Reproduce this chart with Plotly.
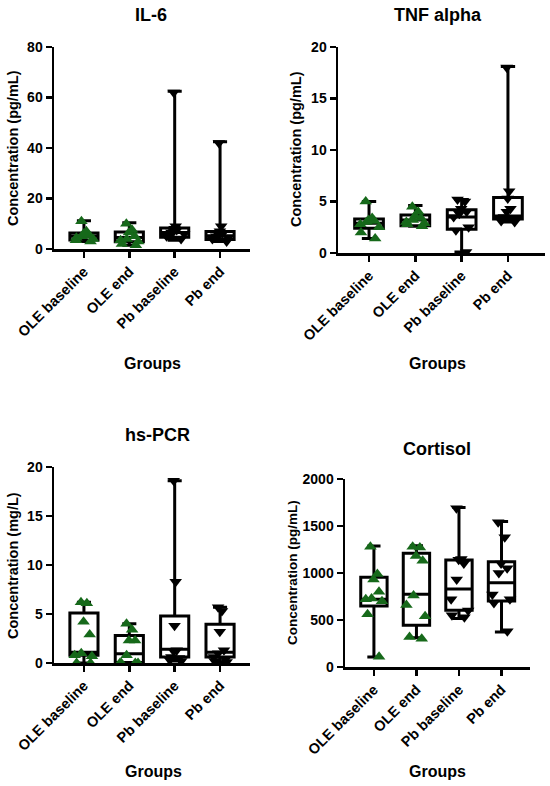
import plotly.graph_objects as go

# ---------------- data ----------------
categories = ["OLE baseline", "OLE end", "Pb baseline", "Pb end"]

# IL-6 (pg/mL)
il6_q1 = [3.6, 2.9, 4.7, 3.8]
il6_median = [5.0, 4.6, 6.5, 5.2]
il6_q3 = [6.3, 6.7, 8.3, 6.9]
il6_min = [3.0, 1.5, 3.5, 3.0]
il6_max = [11.2, 10.4, 62.5, 42.5]
il6_ole_base = [11.0, 7.0, 6.0, 5.5, 5.0, 4.5, 4.0, 3.5, 3.0]
il6_ole_end = [10.0, 7.5, 6.5, 5.0, 4.0, 3.5, 3.0, 2.0, 1.5]
il6_pb_base = [62.0, 9.0, 8.0, 7.5, 7.0, 6.5, 6.0, 5.0, 4.0]
il6_pb_end = [42.0, 9.0, 7.0, 6.0, 5.5, 5.0, 4.5, 4.0, 3.0]

# TNF alpha (pg/mL)
tnf_q1 = [2.4, 2.65, 2.3, 3.3]
tnf_median = [2.9, 3.2, 3.5, 3.6]
tnf_q3 = [3.3, 3.7, 4.2, 5.4]
tnf_min = [1.4, 2.6, 0.1, 3.0]
tnf_max = [5.0, 4.6, 5.2, 18.1]
tnf_ole_base = [5.0, 3.4, 3.2, 3.1, 3.0, 2.8, 2.5, 2.0, 1.4]
tnf_ole_end = [4.5, 4.0, 3.6, 3.4, 3.2, 3.0, 2.9, 2.8, 2.6]
tnf_pb_base = [5.2, 5.0, 4.3, 4.0, 3.8, 3.5, 2.5, 2.2, 0.1]
tnf_pb_end = [18.0, 6.0, 5.3, 4.3, 4.0, 3.5, 3.3, 3.1, 3.0]

# hs-PCR (mg/L)
pcr_q1 = [0.8, 0.05, 0.6, 0.6]
pcr_median = [1.1, 0.95, 1.4, 1.1]
pcr_q3 = [5.1, 2.8, 4.8, 3.95]
pcr_min = [0.0, 0.0, 0.2, 0.1]
pcr_max = [6.2, 4.0, 18.6, 5.7]
pcr_ole_base = [6.2, 6.1, 4.2, 2.9, 1.0, 0.8, 0.7, 0.0, 0.0]
pcr_ole_end = [4.0, 3.4, 2.3, 2.3, 0.8, 0.0, 0.0, 0.0, 0.0]
pcr_pb_base = [18.6, 8.3, 3.8, 1.3, 1.2, 0.6, 0.5, 0.3, 0.2]
pcr_pb_end = [5.7, 5.3, 3.2, 1.3, 1.0, 0.6, 0.4, 0.2, 0.1]

# Cortisol (pg/mL)
cort_q1 = [648, 445, 605, 701]
cort_median = [720, 773, 829, 897]
cort_q3 = [954, 1210, 1139, 1121]
cort_min = [107, 310, 516, 373]
cort_max = [1288, 1290, 1697, 1547]
cort_ole_base = [1280, 990, 930, 800, 730, 720, 700, 560, 110]
cort_ole_end = [1280, 1270, 1180, 1130, 760, 660, 540, 320, 300]
cort_pb_base = [1690, 1150, 1140, 1100, 930, 720, 600, 550, 530]
cort_pb_end = [1540, 1380, 1100, 1050, 1000, 770, 720, 680, 380]

# ---------------- layout helpers ----------------
W, H = 550, 786
FONT = "Liberation Sans, Arial, sans-serif"
GREEN = "#16691a"


def fx(p):
    return p / W


def fy(p):
    return 1 - p / H


panels = [
    dict(title="IL-6", ytitle="Concentration (pg/mL)", ysize=14.5,
         stats=(il6_q1, il6_median, il6_q3, il6_min, il6_max),
         pts=[il6_ole_base, il6_ole_end, il6_pb_base, il6_pb_end],
         yrange=[0, 80], dtick=20,
         xdom=(54, 250), ydom=(47, 249), xr=[-0.66, 3.66],
         tpos=(151, 15), ypos=(13, 148), gpos=(152, 363)),
    dict(title="TNF alpha", ytitle="Concentration (pg/mL)", ysize=14.5,
         stats=(tnf_q1, tnf_median, tnf_q3, tnf_min, tnf_max),
         pts=[tnf_ole_base, tnf_ole_end, tnf_pb_base, tnf_pb_end],
         yrange=[0, 20], dtick=5,
         xdom=(338, 545), ydom=(47, 253), xr=[-0.67, 3.8],
         tpos=(438, 15), ypos=(296, 149), gpos=(437, 363)),
    dict(title="hs-PCR", ytitle="Concentration (mg/L)", ysize=14.5,
         stats=(pcr_q1, pcr_median, pcr_q3, pcr_min, pcr_max),
         pts=[pcr_ole_base, pcr_ole_end, pcr_pb_base, pcr_pb_end],
         yrange=[0, 20], dtick=5,
         xdom=(54, 250), ydom=(467, 663), xr=[-0.66, 3.66],
         tpos=(157, 435), ypos=(13, 566), gpos=(153, 771)),
    dict(title="Cortisol", ytitle="Concentration (pg/mL)", ysize=13.5,
         stats=(cort_q1, cort_median, cort_q3, cort_min, cort_max),
         pts=[cort_ole_base, cort_ole_end, cort_pb_base, cort_pb_end],
         yrange=[0, 2000], dtick=500,
         xdom=(345, 530), ydom=(479, 667), xr=[-0.68, 3.67],
         tpos=(437, 449), ypos=(292, 573), gpos=(437, 771)),
]

fig = go.Figure()
annotations = []
layout_axes = {}

for k, p in enumerate(panels):
    n = "" if k == 0 else str(k + 1)
    xa, ya = "x" + n, "y" + n
    q1, med, q3, lo, hi = p["stats"]
    fig.add_trace(go.Box(
        x=categories, q1=q1, median=med, q3=q3, lowerfence=lo, upperfence=hi,
        boxpoints=False, width=0.62, whiskerwidth=0.5,
        fillcolor="white", line=dict(color="black", width=3),
        xaxis=xa, yaxis=ya, showlegend=False, hoverinfo="skip"))
    for i, vals in enumerate(p["pts"]):
        is_ole = i < 2
        fig.add_trace(go.Box(
            x=[categories[i]] * len(vals), y=vals,
            boxpoints="all", jitter=0.9, pointpos=0, width=0.62,
            fillcolor="rgba(0,0,0,0)",
            line=dict(color="rgba(0,0,0,0)", width=0),
            marker=dict(symbol="triangle-up" if is_ole else "triangle-down",
                        size=11, color=GREEN if is_ole else "black"),
            xaxis=xa, yaxis=ya, showlegend=False))

    layout_axes["xaxis" + n] = dict(
        domain=[fx(p["xdom"][0]), fx(p["xdom"][1])], anchor=ya,
        type="category", categoryorder="array", categoryarray=categories,
        range=p["xr"], showline=True, linecolor="black", linewidth=2.5,
        ticks="outside", ticklen=6, tickwidth=2.5, tickcolor="black",
        tickangle=-45, showgrid=False, zeroline=False, automargin=False,
        tickfont=dict(family=FONT, size=14.5, color="black", weight="bold"))
    layout_axes["yaxis" + n] = dict(
        domain=[fy(p["ydom"][1]), fy(p["ydom"][0])], anchor=xa,
        range=p["yrange"], dtick=p["dtick"], tick0=0,
        showline=True, linecolor="black", linewidth=2.5,
        ticks="outside", ticklen=6, tickwidth=2.5, tickcolor="black",
        showgrid=False, zeroline=False, automargin=False,
        tickfont=dict(family=FONT, size=14, color="black", weight="bold"))

    annotations.append(dict(
        text=p["title"], x=fx(p["tpos"][0]), y=fy(p["tpos"][1]),
        xref="paper", yref="paper", showarrow=False,
        xanchor="center", yanchor="middle",
        font=dict(family=FONT, size=18, color="black", weight="bold")))
    annotations.append(dict(
        text=p["ytitle"], x=fx(p["ypos"][0]), y=fy(p["ypos"][1]),
        xref="paper", yref="paper", showarrow=False, textangle=-90,
        xanchor="center", yanchor="middle",
        font=dict(family=FONT, size=p["ysize"], color="black", weight="bold")))
    annotations.append(dict(
        text="Groups", x=fx(p["gpos"][0]), y=fy(p["gpos"][1]),
        xref="paper", yref="paper", showarrow=False,
        xanchor="center", yanchor="middle",
        font=dict(family=FONT, size=16, color="black", weight="bold")))

fig.update_layout(
    template="none",
    width=W, height=H, margin=dict(l=0, r=0, t=0, b=0, pad=0),
    paper_bgcolor="white", plot_bgcolor="white",
    boxmode="overlay", showlegend=False,
    annotations=annotations, **layout_axes)

fig.write_html("out.html",
               config={"displayModeBar": False, "staticPlot": True},
               post_script="document.body.style.margin='0';"
                           "document.body.style.padding='0';")
